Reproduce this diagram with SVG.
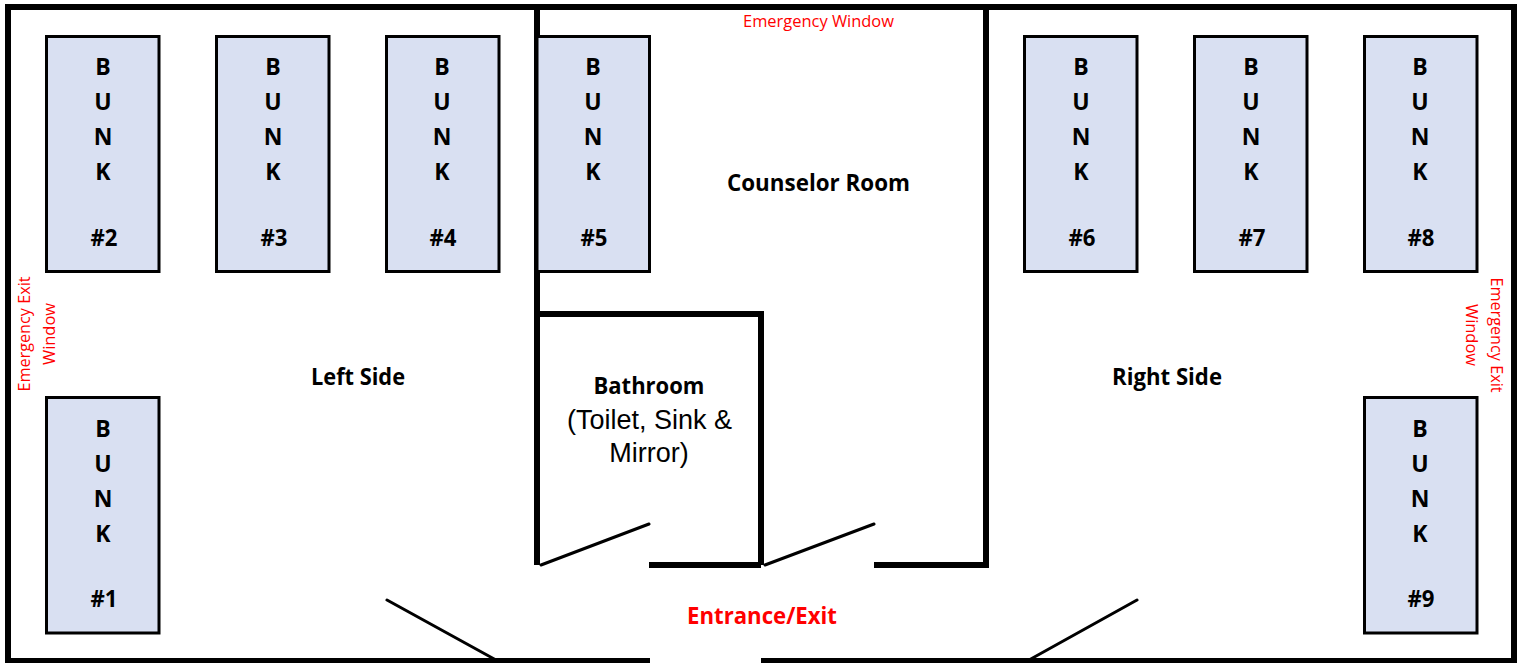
<svg xmlns="http://www.w3.org/2000/svg" width="1523" height="663" viewBox="0 0 1523 663">
<style>
.bed{fill:#d9e0f2;stroke:#000;stroke-width:3}
.w{fill:none;stroke:#000;stroke-width:6}
.d{fill:none;stroke:#000;stroke-width:3;stroke-linecap:round}
text{font-family:"Open Sans","Liberation Sans",sans-serif}
.l{font-weight:700;font-size:23px;fill:#000;text-anchor:middle}
.r{font-size:16px;fill:#f00;text-anchor:middle}
.a{font-family:"Liberation Sans",sans-serif;font-size:27px;text-anchor:middle}
</style>
<defs>
<rect id="bunk" class="bed" x="46.500" y="36.500" width="112.500" height="235"/>
<rect id="bunkb" class="bed" x="46.500" y="397.500" width="112.500" height="235.500"/>
</defs>
<rect width="1523" height="663" fill="#fff"/>
<g id="walls">
<path class="w" d="M8 663V7H1514V661H761"/>
<path class="w" d="M650 661H8"/>
<path class="w" d="M537 7V565M537 314H761V565M649 565H761M874 565H986V7"/>
</g>
<g id="connectors">
<path class="d" d="M541 565L649 524M765 565L874 524M387 600L496 660M1137 600L1029 660"/>
</g>
<g id="bunk1"><use href="#bunkb"/><text class="l" x="103" y="437">B</text><text class="l" x="103" y="472">U</text><text class="l" x="103" y="507">N</text><text class="l" x="103" y="542">K</text><text class="l" x="104" y="607" textLength="27" lengthAdjust="spacingAndGlyphs">#1</text></g>
<g id="bunk2"><use href="#bunk"/><text class="l" x="103" y="75">B</text><text class="l" x="103" y="110">U</text><text class="l" x="103" y="145">N</text><text class="l" x="103" y="180">K</text><text class="l" x="104" y="246" textLength="27" lengthAdjust="spacingAndGlyphs">#2</text></g>
<g id="bunk3"><use href="#bunk" x="170"/><text class="l" x="273" y="75">B</text><text class="l" x="273" y="110">U</text><text class="l" x="273" y="145">N</text><text class="l" x="273" y="180">K</text><text class="l" x="274" y="246" textLength="27" lengthAdjust="spacingAndGlyphs">#3</text></g>
<g id="bunk4"><use href="#bunk" x="340"/><text class="l" x="442" y="75">B</text><text class="l" x="442" y="110">U</text><text class="l" x="442" y="145">N</text><text class="l" x="442" y="180">K</text><text class="l" x="443" y="246" textLength="27" lengthAdjust="spacingAndGlyphs">#4</text></g>
<g id="bunk5"><path class="bed" d="M537 36.500H649.500V271.500H537Z"/><text class="l" x="593" y="75">B</text><text class="l" x="593" y="110">U</text><text class="l" x="593" y="145">N</text><text class="l" x="593" y="180">K</text><text class="l" x="594" y="246" textLength="27" lengthAdjust="spacingAndGlyphs">#5</text></g>
<g id="bunk6"><use href="#bunk" x="978"/><text class="l" x="1081" y="75">B</text><text class="l" x="1081" y="110">U</text><text class="l" x="1081" y="145">N</text><text class="l" x="1081" y="180">K</text><text class="l" x="1082" y="246" textLength="27" lengthAdjust="spacingAndGlyphs">#6</text></g>
<g id="bunk7"><use href="#bunk" x="1148"/><text class="l" x="1251" y="75">B</text><text class="l" x="1251" y="110">U</text><text class="l" x="1251" y="145">N</text><text class="l" x="1251" y="180">K</text><text class="l" x="1252" y="246" textLength="27" lengthAdjust="spacingAndGlyphs">#7</text></g>
<g id="bunk8"><use href="#bunk" x="1318"/><text class="l" x="1420" y="75">B</text><text class="l" x="1420" y="110">U</text><text class="l" x="1420" y="145">N</text><text class="l" x="1420" y="180">K</text><text class="l" x="1421" y="246" textLength="27" lengthAdjust="spacingAndGlyphs">#8</text></g>
<g id="bunk9"><use href="#bunkb" x="1318"/><text class="l" x="1420" y="437">B</text><text class="l" x="1420" y="472">U</text><text class="l" x="1420" y="507">N</text><text class="l" x="1420" y="542">K</text><text class="l" x="1421" y="607" textLength="27" lengthAdjust="spacingAndGlyphs">#9</text></g>
<g id="labels">
<text class="l" x="818.500" y="191" textLength="183" lengthAdjust="spacingAndGlyphs">Counselor Room</text>
<text class="l" x="358" y="385" textLength="94" lengthAdjust="spacingAndGlyphs">Left Side</text>
<text class="l" x="1167" y="385" textLength="110" lengthAdjust="spacingAndGlyphs">Right Side</text>
<text class="l" x="649" y="394" textLength="111" lengthAdjust="spacingAndGlyphs">Bathroom</text>
<text class="a" x="649.500" y="429">(Toilet, Sink &amp;</text>
<text class="a" x="649" y="462">Mirror)</text>
<text class="l" x="762" y="624" style="fill:#f00" textLength="150" lengthAdjust="spacingAndGlyphs">Entrance/Exit</text>
<text class="r" x="818.500" y="27" textLength="151" lengthAdjust="spacingAndGlyphs">Emergency Window</text>
<text class="r" transform="translate(30 334) rotate(-90)" textLength="115" lengthAdjust="spacingAndGlyphs">Emergency Exit</text>
<text class="r" transform="translate(55 334) rotate(-90)" textLength="62" lengthAdjust="spacingAndGlyphs">Window</text>
<text class="r" transform="translate(1491 335) rotate(90)" textLength="115" lengthAdjust="spacingAndGlyphs">Emergency Exit</text>
<text class="r" transform="translate(1466 335) rotate(90)" textLength="62" lengthAdjust="spacingAndGlyphs">Window</text>
</g>
</svg>
